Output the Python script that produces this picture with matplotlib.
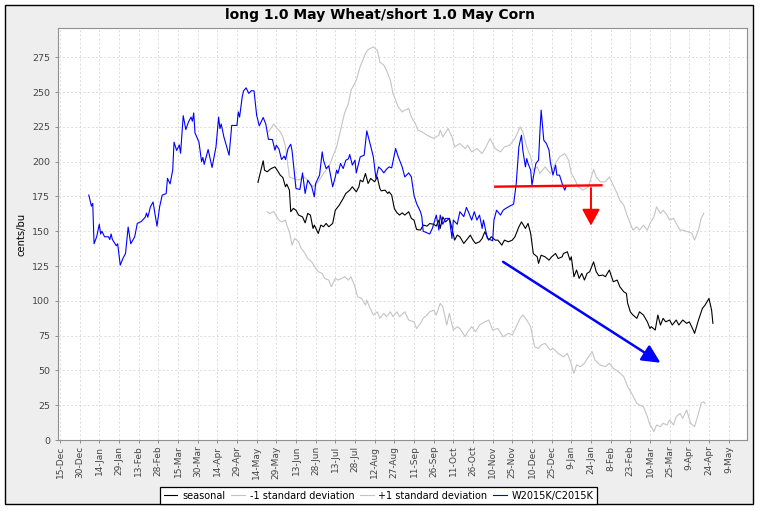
import pandas as pd
import matplotlib
matplotlib.use("Agg")
import matplotlib.pyplot as plt
from matplotlib.patches import Rectangle

# day offsets are counted from this date
base = pd.Timestamp("2013-12-15")

title = "long 1.0 May Wheat/short 1.0 May Corn"
y_label = "cents/bu"
y_ticks = [0, 25, 50, 75, 100, 125, 150, 175, 200, 225, 250, 275]

# W2015K/C2015K spread
spread_days = [22, 24, 25, 26, 28, 30, 31, 32, 34, 37, 38, 39, 40, 43, 44, 46, 48, 50, 52, 54,
               57, 59, 62, 65, 66, 67, 69, 71, 74, 76, 78, 81, 82, 84, 86, 87, 89, 91, 92, 94,
               96, 98, 100, 101, 102, 103, 106, 108, 109, 110, 113, 116, 119, 121, 122, 123, 125, 129, 131, 135,
               136, 137, 139, 140, 142, 144, 146, 148, 150, 152, 154, 155, 157, 159, 162, 164, 165, 167, 169, 171,
               172, 174, 176, 177, 180, 183, 185, 187, 189, 192, 194, 195, 198, 200, 201, 203, 205, 208, 210, 211,
               212, 214, 216, 218, 220, 221, 223, 225, 226, 229, 232, 234, 237, 239, 241, 243, 245, 247, 249, 251,
               253, 256, 258, 261, 263, 266, 268, 270, 272, 275, 276, 277, 280, 282, 284, 285, 287, 289, 290, 292,
               294, 297, 299, 300, 303, 305, 308, 310, 312, 314, 316, 318, 320, 322, 323, 326, 328, 330, 331, 333,
               336, 338, 340, 343, 346, 348, 350, 352, 353, 355, 356, 357, 359, 360, 362, 363, 365, 366, 367, 369,
               371, 373, 374, 376, 378, 379, 381, 383, 385, 386]
spread_vals = [176, 168, 170, 141, 146, 155, 148, 150, 146, 146, 144, 148, 144, 139.5, 141, 125.6, 130.4, 134, 153, 141,
               146, 155.6, 157, 160, 163, 160, 167.5, 171, 153.6, 167.5, 176, 177, 188, 184, 194, 214, 208, 212, 206, 233,
               223, 228.5, 232, 229, 235, 220.6, 214, 200, 203, 198, 208.7, 195.8, 210.6, 232, 223.7, 227, 217.8, 204.6, 226, 226,
               235.7, 232, 246.5, 250.8, 253, 249, 251, 250.8, 233.4, 225.7, 229.8, 231.7, 226.9, 216, 215.9, 208.2, 211.8, 209, 201.5, 204,
               201.5, 209.4, 212.5, 208, 180.7, 180, 191.9, 177.1, 186.7, 182, 174.7, 184.3, 190.3, 207, 201, 195, 197, 181.9, 189, 193.9,
               191.5, 198.7, 195, 201, 202, 205.1, 197.5, 201, 191.9, 203.4, 204.6, 222.1, 211.1, 203.4, 187.9, 196.2, 194.5, 191.9, 194.5, 196.2,
               195.5, 209.4, 203.5, 196.2, 189, 191.9, 189, 175.9, 169.9, 163.9, 160.3, 150, 148.8, 148, 152, 155, 161.6, 150.8, 161.6, 155,
               159.2, 159.2, 144.8, 158, 155, 164, 160.5, 167.1, 162.8, 158, 164, 158, 161.6, 152, 158, 144.8, 144, 143.1, 158, 165.1,
               161.6, 165.1, 166.4, 168, 169.5, 184.3, 210.6, 219, 208.2, 196.2, 202.2, 198.7, 193.9, 183.1, 193.9, 198.7, 201, 220.2, 237, 215.4,
               213, 208.2, 199.8, 190.3, 197.5, 190.3, 190.3, 184.3, 179.5, 182]

# seasonal average
seasonal_days = [151, 153, 155, 156, 158, 161, 164, 166, 168, 170, 172, 173, 175, 176, 178, 180, 182, 185, 187, 189,
                 191, 193, 194, 197, 199, 201, 203, 205, 208, 210, 213, 216, 218, 221, 223, 226, 228, 229, 231, 233,
                 235, 237, 240, 242, 244, 245, 248, 250, 251, 253, 255, 257, 259, 261, 263, 266, 268, 270, 272, 275,
                 277, 280, 282, 285, 287, 289, 290, 292, 294, 297, 299, 301, 303, 305, 308, 310, 313, 315, 317, 320,
                 322, 324, 327, 329, 332, 334, 337, 339, 342, 345, 347, 350, 352, 355, 357, 359, 361, 364, 365, 367,
                 370, 373, 375, 378, 380, 383, 384, 387, 389, 390, 392, 394, 396, 398, 400, 402, 404, 407, 409, 411,
                 414, 416, 419, 422, 425, 427, 430, 432, 433, 435, 437, 440, 442, 445, 448, 450, 451, 454, 456, 458,
                 460, 462, 465, 467, 470, 472, 475, 478, 480, 483, 484, 487, 490, 492, 495, 497, 498]
seasonal_vals = [185, 192.7, 200.6, 193.9, 192.7, 195, 196.2, 193.4, 190.3, 188.6, 181.9, 183.8, 179.5, 164, 166.4, 165.1, 161.6, 160.3, 156, 162.8,
                 161.6, 152, 154.4, 148.4, 154.4, 153.2, 155.6, 153.2, 155.6, 165.1, 168.7, 173.5, 177.1, 179.5, 181.9, 178.3, 181.9, 186.7, 185.5, 191.5,
                 184.3, 187.9, 185.5, 189, 180.7, 179, 179.5, 177.1, 178.3, 175.9, 166.4, 163.3, 161.6, 163.2, 161.6, 164, 159.2, 158, 151.3, 150.8,
                 154.4, 153.7, 155.5, 155, 153.7, 158, 152, 160.3, 156.7, 159.2, 152, 143.6, 147.2, 146, 141.2, 143.6, 147.2, 143.6, 141.2, 142.4,
                 144.8, 149.6, 143.6, 146, 143.6, 143.6, 140, 143.6, 142.4, 143.6, 146, 153.1, 156.7, 152, 155.6, 148.4, 134, 131.6, 126.9, 132.8,
                 131.6, 129.2, 131.6, 134, 130.4, 131.6, 134, 135.2, 129.2, 131.6, 117.3, 122.1, 116.1, 119.7, 114.9, 119.7, 120.9, 128, 120.9, 118,
                 118.5, 117.3, 122.1, 113.7, 114.9, 110.1, 106.5, 105.3, 98.2, 92.1, 89.8, 87.4, 92.1, 89.8, 84.9, 80.1, 81.4, 79, 89.8, 82.6,
                 87.4, 84.9, 86.2, 82.6, 86.2, 82.6, 86.2, 83.8, 84.9, 79, 76.6, 86.2, 94.6, 96.9, 101.7, 93.3, 83.8]

# +1 standard deviation (upper grey band)
upper_days = [159, 163, 165, 168, 170, 172, 175, 178, 182, 186, 189, 193, 197, 201, 205, 208, 211, 214, 217, 220,
              222, 226, 229, 233, 235, 239, 242, 244, 247, 249, 252, 254, 258, 261, 263, 266, 268, 271, 273, 276,
              280, 285, 289, 290, 292, 296, 299, 301, 305, 309, 311, 314, 318, 322, 325, 328, 332, 336, 339, 343,
              347, 351, 353, 356, 359, 361, 364, 366, 370, 374, 378, 381, 385, 388, 390, 393, 395, 399, 403, 407,
              409, 412, 416, 419, 422, 425, 427, 430, 432, 435, 437, 440, 442, 445, 448, 450, 453, 455, 458, 460,
              463, 465, 468, 470, 473, 475, 479, 482, 484, 487, 489, 491]
upper_vals = [221.4, 226.9, 224.5, 221.4, 217.8, 210.6, 189, 187.9, 186.7, 189, 186.7, 181.9, 185.5, 191.5, 196.2, 203.4, 210.6, 222.6, 234.6, 241.8,
              251.3, 258.5, 268.4, 277.7, 280.5, 282.4, 280, 271.6, 269.3, 265.7, 258.5, 248.9, 239.3, 235.7, 237, 238.1, 232, 227.4, 222.6, 221.4,
              219, 216.6, 219, 222.6, 217.8, 223.8, 217.8, 210.6, 213, 209.4, 211.8, 207, 209.4, 205.8, 210.6, 216.6, 209.4, 207, 210.6, 211.8,
              216.6, 225, 221.4, 210.6, 203.4, 193.9, 196.2, 191.5, 196.2, 191.5, 198.7, 203.4, 205.8, 201, 191.5, 186.7, 181.9, 179.5, 181.9, 194.5,
              189, 185.5, 185.5, 189, 183.1, 177.1, 172.3, 168.7, 162.8, 155.6, 150.8, 153.2, 150.8, 154.4, 150.8, 155.6, 160.3, 167.5, 162.8, 165.1,
              161.6, 158, 159.2, 155.6, 150.8, 150.8, 149.6, 148.4, 143.6, 150.8, 159.2, 162.8]

# -1 standard deviation (lower grey band)
lower_days = [158, 160, 163, 167, 169, 172, 173, 175, 177, 179, 182, 184, 187, 189, 192, 195, 197, 200, 202, 205,
              207, 210, 212, 215, 217, 220, 222, 225, 227, 230, 233, 234, 236, 239, 242, 244, 247, 249, 252, 254,
              257, 259, 263, 266, 270, 272, 275, 277, 280, 282, 285, 287, 290, 292, 295, 297, 300, 303, 305, 309,
              311, 314, 317, 320, 324, 327, 330, 334, 338, 342, 345, 348, 351, 353, 356, 359, 361, 362, 365, 367,
              370, 374, 376, 380, 384, 387, 389, 392, 394, 397, 400, 403, 406, 408, 412, 416, 419, 422, 426, 430,
              433, 436, 440, 442, 445, 448, 450, 451, 453, 455, 458, 460, 463, 465, 468, 470, 473, 475, 478, 481,
              484, 487, 489, 491, 492]
lower_vals = [164, 162.8, 164, 158, 156.7, 158, 154.4, 149.6, 140, 144.8, 142.4, 137.6, 134, 130.4, 128, 123.3, 120.9, 119.7, 116.1, 114.9,
              110.1, 116.1, 114.9, 116.1, 117.3, 114.9, 117.3, 110.1, 102.9, 101.7, 96.9, 100.5, 95.7, 89.8, 92.1, 87.4, 91, 88.6, 92.1, 88.6,
              92.1, 88.6, 92.1, 86.2, 84.9, 80.1, 83.8, 87.4, 89.8, 92.1, 93.3, 89.8, 98.2, 95.7, 82.6, 91, 79, 81.4, 80.1, 74.2,
              77.8, 81.4, 77.8, 82.6, 84.9, 86.2, 79, 80.1, 74.2, 76.6, 75.4, 81.4, 87.4, 89.8, 86.2, 81.4, 71.8, 67, 65.8, 68.2,
              69.4, 64.6, 65.8, 62.2, 59.8, 62.2, 57.4, 47.9, 53.9, 52.7, 55.1, 59.8, 63.4, 57.4, 53.9, 52.7, 55.1, 51.5, 49.1, 45.5,
              38.3, 33.5, 26.3, 25.1, 23.9, 16.8, 10.8, 9.6, 6, 10.8, 9.6, 12, 10.8, 14.4, 10.8, 16.8, 19.1, 15.6, 21.5, 12,
              9.6, 19.1, 26.3, 27.5, 26.3]

# hand-drawn marks on the chart (day offset, value)
red_line_days = [332, 413]
red_line_vals = [182, 183]
red_arrow_days = [405, 405]
red_arrow_vals = [181, 154]
blue_arrow_days = [338, 458]
blue_arrow_vals = [128, 55.5]


def to_dates(days):
    return base + pd.to_timedelta(days, unit="D")


W, H = 760, 511
fig = plt.figure(figsize=(W / 100, H / 100), dpi=100, facecolor="white")
frame = Rectangle((4.5 / W, 7 / H), 748.5 / W, 499 / H, transform=fig.transFigure,
                  facecolor="#eeeeee", edgecolor="black", linewidth=1.0, zorder=-10)
fig.add_artist(frame)

ax = fig.add_axes([58 / W, 71 / H, 689 / W, 412 / H])
ax.set_zorder(1)
ax.set_facecolor("white")

ax.plot(to_dates(upper_days), upper_vals, color="#c4c4c4", lw=0.8, zorder=2)
ax.plot(to_dates(lower_days), lower_vals, color="#c4c4c4", lw=0.8, zorder=2)
ax.plot(to_dates(seasonal_days), seasonal_vals, color="black", lw=0.8, zorder=3)
ax.plot(to_dates(spread_days), spread_vals, color="#0000ff", lw=0.8, zorder=4)

# annotations
ax.plot(to_dates(red_line_days), red_line_vals, color="#ff0000", lw=1.7, zorder=5)
rd = to_dates(red_arrow_days)
ax.annotate("", xy=(rd[1], red_arrow_vals[1]), xytext=(rd[0], red_arrow_vals[0]),
            arrowprops=dict(arrowstyle="-|>,head_length=0.5,head_width=0.27", color="#ff0000",
                            lw=1.4, mutation_scale=20, shrinkA=0, shrinkB=0), zorder=5)
bd = to_dates(blue_arrow_days)
ax.annotate("", xy=(bd[1], blue_arrow_vals[1]), xytext=(bd[0], blue_arrow_vals[0]),
            arrowprops=dict(arrowstyle="-|>,head_length=0.55,head_width=0.27", color="#0000ff",
                            lw=1.8, mutation_scale=20, shrinkA=0, shrinkB=0), zorder=5)

# axes
ax.set_xlim(base - pd.Timedelta(days=1.5), base + pd.Timedelta(days=524))
ax.set_ylim(0, 296)
tick_dates = pd.date_range("2013-12-15", "2015-05-09", freq="15D")
ax.set_xticks(tick_dates)
ax.set_xticklabels([f"{d.day}-{d.strftime('%b')}" for d in tick_dates], rotation=90,
                   fontsize=6.5, color="#444444")
ax.set_yticks(y_ticks)
ax.set_yticklabels([str(v) for v in y_ticks], fontsize=6.8, color="#444444")
ax.tick_params(axis="both", length=2.5, width=0.6, color="#808080")
ax.tick_params(axis="x", pad=1.5)
ax.tick_params(axis="y", pad=3)
ax.grid(True, color="#d8d8d8", lw=0.6, linestyle=(0, (2.5, 2.5)))
ax.set_axisbelow(True)
for s in ax.spines.values():
    s.set_color("#909090")
    s.set_linewidth(0.8)

fig.text(380 / W, 1 - 15.5 / H, title, ha="center", va="center", fontsize=10, fontweight="bold")
fig.text(22 / W, 1 - 234 / H, y_label, ha="center", va="center", rotation=90, fontsize=7.2)

# legend
handles = [
    plt.Line2D([], [], color="black", lw=0.8),
    plt.Line2D([], [], color="#c4c4c4", lw=0.8),
    plt.Line2D([], [], color="#c4c4c4", lw=0.8),
    plt.Line2D([], [], color="#0000ff", lw=0.8),
]
labels = ["seasonal", "-1 standard deviation", "+1 standard deviation", "W2015K/C2015K"]
leg = fig.legend(handles, labels, loc="lower center", bbox_to_anchor=(378.7 / W, 7 / H), ncol=4,
                 fontsize=7, frameon=True, fancybox=False, edgecolor="black", framealpha=1,
                 borderaxespad=0, handlelength=1.4, handletextpad=0.5, columnspacing=0.6,
                 borderpad=0.35)
leg.get_frame().set_linewidth(0.9)
leg.set_zorder(5)

fig.savefig("out.png", dpi=100, facecolor=fig.get_facecolor())
